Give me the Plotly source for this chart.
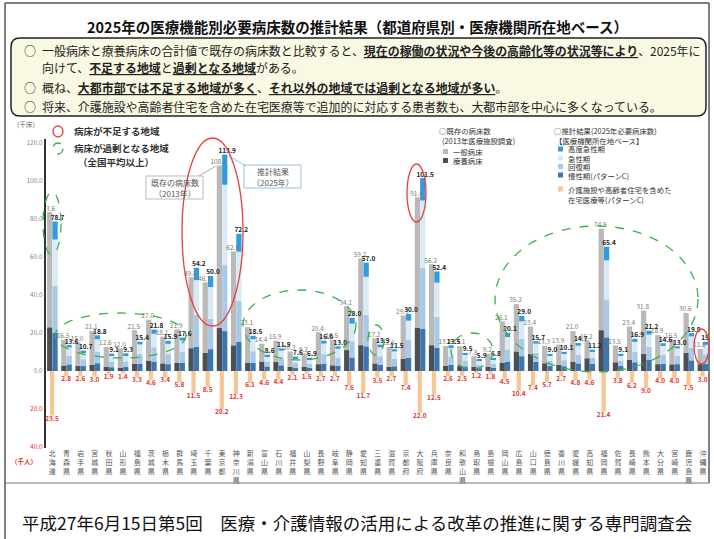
import plotly.graph_objects as go

# ---------------- data ----------------
prefectures = ["北海道","青森県","岩手県","宮城県","秋田県","山形県","福島県","茨城県","栃木県","群馬県",
               "埼玉県","千葉県","東京都","神奈川県","新潟県","富山県","石川県","福井県","山梨県","長野県",
               "岐阜県","静岡県","愛知県","三重県","滋賀県","京都府","大阪府","兵庫県","奈良県","和歌山県",
               "鳥取県","島根県","岡山県","広島県","山口県","徳島県","香川県","愛媛県","高知県","福岡県",
               "佐賀県","長崎県","熊本県","大分県","宮崎県","鹿児島県","沖縄県"]

# existing beds 2013 (thousand beds): total label and long-term care part
existing_total = [83.6,16.5,15.0,21.1,12.6,12.0,21.5,27.0,18.1,21.9,
                  49.4,46.7,108.1,62.9,23.1,14.4,15.9,10.3,9.2,20.4,
                  16.5,34.1,59.2,17.2,12.6,29.3,91.4,56.2,13.2,13.1,
                  7.8,9.2,26.1,35.2,23.4,13.3,13.9,21.0,16.2,74.9,
                  13.5,23.4,31.8,18.9,16.5,30.6,11.6]
existing_ltc = [23.0,2.9,2.6,3.3,2.3,1.8,3.8,5.5,4.0,4.2,
                12.0,9.5,22.6,13.5,4.4,5.0,4.8,2.2,2.1,3.6,
                3.0,11.0,13.6,4.0,2.2,6.5,22.8,13.6,2.8,2.8,
                2.2,2.3,4.4,10.3,9.0,4.1,3.3,4.9,6.7,21.5,
                4.6,5.8,9.0,3.6,3.5,9.5,3.6]

# 2025 estimate (thousand beds)
est_total = [78.7,13.6,10.7,18.8,9.1,9.3,15.4,21.8,15.9,17.6,
             54.2,50.0,113.9,72.2,18.5,8.6,11.9,7.6,6.9,16.0,
             13.0,28.0,57.0,13.9,11.5,30.0,101.5,52.4,13.5,9.5,
             5.9,6.8,20.1,29.0,15.7,9.0,10.1,14.7,11.2,65.4,
             9.1,16.9,21.2,14.6,13.0,19.9,15.3]
est_high_acute = [9.5,1.2,1.0,2.1,0.9,0.9,1.4,2.2,1.6,1.6,
                  6.4,5.8,15.9,9.4,1.8,0.8,1.2,0.8,0.7,1.6,
                  1.3,3.1,7.4,1.4,1.2,3.5,11.8,5.9,1.4,0.9,
                  0.6,0.7,2.2,2.9,1.3,0.8,1.0,1.4,0.9,7.2,
                  0.8,1.6,2.0,1.4,1.1,1.7,1.5]
est_acute = [24.5,4.3,3.5,6.6,3.1,3.3,5.1,7.1,5.4,6.0,
             18.3,16.8,42.3,26.0,6.3,2.8,4.0,2.6,2.3,5.5,
             4.6,9.3,20.0,4.7,4.0,10.2,35.4,18.0,4.5,3.1,
             1.9,2.2,6.6,9.2,4.8,2.8,3.4,4.7,3.2,20.5,
             2.8,5.3,6.4,4.6,3.9,6.0,5.0]
est_recovery = [24.5,4.6,3.6,6.0,3.1,3.0,5.2,7.5,5.3,5.6,
                16.8,15.9,34.7,21.5,6.0,2.6,3.7,2.4,2.3,5.0,
                4.3,8.5,16.6,4.5,3.8,9.3,32.2,16.2,4.4,3.1,
                1.9,2.2,6.4,9.1,4.8,2.8,3.2,4.6,3.4,20.0,
                2.9,5.4,6.8,4.8,4.4,6.6,4.9]
est_chronic = [20.2,3.5,2.6,4.1,2.0,2.1,3.7,5.0,3.6,4.4,
               12.7,11.5,21.0,15.3,4.4,2.4,3.0,1.8,1.6,3.9,
               2.8,7.1,13.0,3.3,2.5,7.0,22.1,12.3,3.2,2.4,
               1.5,1.7,4.9,7.8,4.8,2.6,2.5,4.0,3.7,17.7,
               2.6,4.6,6.0,3.8,3.6,5.6,3.9]

# home medical care etc. (thousand persons)
home_care = [23.5,2.8,2.6,3.0,1.9,1.4,3.3,4.6,3.4,5.8,
             11.5,8.5,20.2,12.3,6.1,4.6,4.4,2.1,1.5,2.7,
             2.7,7.6,11.7,3.5,2.7,7.4,22.0,12.5,2.6,2.5,
             1.2,1.8,4.5,10.4,7.4,5.7,2.7,4.8,4.6,21.4,
             3.8,6.2,9.0,4.0,4.0,7.5,3.0]

y_tickvals = [120, 100, 80, 60, 40, 20, 0, -20, -40]
y_ticktext = ["120.0", "100.0", "80.0", "60.0", "40.0", "20.0", "0.0",
              "<span style='color:#e8332a'>20.0</span>", "<span style='color:#e8332a'>40.0</span>"]

# ---------------- geometry helpers ----------------
W, H = 714, 539
L, R, T, B = 46, 4, 139, 91
PW, PH = W - L - R, H - T - B


def px(x):
    return (x - L) / PW


def py(y):
    return 1 - (y - T) / PH


FONT = "Noto Sans CJK JP, Noto Sans, sans-serif"

C_GEN = "#b9b9b9"
C_LTC = "#4b5058"
C_HA = "#2f9be0"
C_AC = "#d9eaf7"
C_RC = "#a8c9e8"
C_CH = "#3b76b3"
C_HC = "#f8c597"

n = len(prefectures)
idx = list(range(n))
x_ex = [i - 0.19 for i in idx]
x_es = [i + 0.19 for i in idx]
x_hc = [i - 0.02 for i in idx]
existing_general = [round(t - l, 1) for t, l in zip(existing_total, existing_ltc)]

fig = go.Figure()
bw = 0.37
for xs, ys, col, w in [
    (x_ex, existing_ltc, C_LTC, bw),
    (x_ex, existing_general, C_GEN, bw),
    (x_es, est_chronic, C_CH, bw),
    (x_es, est_recovery, C_RC, bw),
    (x_es, est_acute, C_AC, bw),
    (x_es, est_high_acute, C_HA, bw),
    (x_hc, [-v for v in home_care], C_HC, 0.3),
]:
    fig.add_bar(x=xs, y=ys, width=w, marker=dict(color=col, line=dict(width=0)),
                showlegend=False, hoverinfo="skip")

fig.add_scatter(x=[i - 0.25 for i in idx], y=existing_total, mode="text",
                text=[f"{v:.1f}" for v in existing_total], textposition="top center",
                textfont=dict(size=6.5, color="#7d7d68", family=FONT), showlegend=False, hoverinfo="skip")
fig.add_scatter(x=[i + 0.36 for i in idx], y=est_total, mode="text",
                text=[f"<b>{v:.1f}</b>" for v in est_total], textposition="top center",
                textfont=dict(size=6.5, color="#222", family=FONT), showlegend=False, hoverinfo="skip")
fig.add_scatter(x=x_hc, y=[-v for v in home_care], mode="text",
                text=[f"<b>{v:.1f}</b>" for v in home_care], textposition="bottom center",
                textfont=dict(size=6.5, color="#e8332a", family=FONT), showlegend=False, hoverinfo="skip")

shapes = []
ann = []


def text(x, y, s, size=8, color="#222", anchor="left", bold=False, yanchor="middle"):
    ann.append(dict(x=px(x), y=py(y), xref="paper", yref="paper", text=(f"<b>{s}</b>" if bold else s),
                    showarrow=False, xanchor=anchor, yanchor=yanchor,
                    font=dict(size=size, color=color, family=FONT)))


def rect(x0, y0, x1, y1, fill, line="rgba(0,0,0,0)", lw=0):
    shapes.append(dict(type="rect", xref="paper", yref="paper", x0=px(x0), x1=px(x1), y0=py(y0), y1=py(y1),
                       fillcolor=fill, line=dict(color=line, width=lw)))


def ellipse(x0, y0, x1, y1, color, dash="solid"):
    shapes.append(dict(type="circle", xref="paper", yref="paper", x0=px(x0), x1=px(x1), y0=py(y0), y1=py(y1),
                       line=dict(color=color, width=1.3, dash=dash)))


def line(x0, y0, x1, y1, color, lw=1.0):
    shapes.append(dict(type="line", xref="paper", yref="paper", x0=px(x0), x1=px(x1), y0=py(y0), y1=py(y1),
                       line=dict(color=color, width=lw)))


def rrect(x0, y0, x1, y1, r, fill, color, lw):
    p = (f"M {px(x0+r)},{py(y0)} L {px(x1-r)},{py(y0)} Q {px(x1)},{py(y0)} {px(x1)},{py(y0+r)} "
         f"L {px(x1)},{py(y1-r)} Q {px(x1)},{py(y1)} {px(x1-r)},{py(y1)} L {px(x0+r)},{py(y1)} "
         f"Q {px(x0)},{py(y1)} {px(x0)},{py(y1-r)} L {px(x0)},{py(y0+r)} Q {px(x0)},{py(y0)} {px(x0+r)},{py(y0)} Z")
    shapes.append(dict(type="path", xref="paper", yref="paper", path=p, fillcolor=fill,
                       line=dict(color=color, width=lw), layer="below"))


# page frame
line(5, 3, 709, 3, "#555", 1.5)
line(5, 3, 5, 539, "#555", 1.5)
line(709, 3, 709, 483, "#555", 1.5)
line(5, 483, 709, 483, "#777", 1.2)

# title
text(357, 26, "2025年の医療機能別必要病床数の推計結果（都道府県別・医療機関所在地ベース）", size=14.5,
     color="#111", anchor="center", bold=True)

# summary box
BF = 11.95
rrect(11, 38, 706, 116, 9, "#f9f9e3", "#222", 1.5)
for y in (50, 87, 106):
    text(22, y, "○", size=BF, color="#222")
text(40, 50, "一般病床と療養病床の合計値で既存の病床数と比較すると、"
             "<u><b>現在の稼働の状況や今後の高齢化等の状況等により</b></u>、2025年に",
     size=BF, color="#222")
text(40, 67, "向けて、<u><b>不足する地域</b></u>と<u><b>過剰となる地域</b></u>がある。", size=BF, color="#222")
text(40, 87, "概ね、<u><b>大都市部では不足する地域が多く</b></u>、<u><b>それ以外の地域では過剰となる地域が多い</b></u>。",
     size=BF, color="#222")
text(40, 106, "将来、介護施設や高齢者住宅を含めた在宅医療等で追加的に対応する患者数も、大都市部を中心に多くなっている。",
     size=BF, color="#222")

# axis unit labels
text(26, 124, "（千床）", size=6.5, color="#666", anchor="center")
text(24, 461, "（千人）", size=6.5, color="#e8332a", anchor="center", bold=True)

# left legend
ellipse(53, 126, 63, 137, "#e84040")
text(72, 131, "病床が不足する地域", size=9.5, color="#333", bold=True)
ellipse(53, 143, 63, 154, "#3cb050", "dash")
text(72, 148, "病床が過剰となる地域", size=9.5, color="#333", bold=True)
text(76, 162, "（全国平均以上）", size=9.5, color="#333", bold=True)

# right legend
fs = 7.4
text(437, 130, "○既存の病床数", size=fs, color="#333")
text(440, 140, "(2013年医療施設調査)", size=fs, color="#333")
rect(443, 149, 448, 154, C_GEN)
text(451, 151.5, "一般病床", size=fs, color="#333")
rect(443, 158, 448, 163, C_LTC)
text(451, 160.5, "療養病床", size=fs, color="#333")

text(552, 130, "○推計結果(2025年必要病床数)", size=fs, color="#333")
text(553, 140, "【医療機関所在地ベース】", size=fs, color="#333")
for yy, col, lab in [(149, C_HA, "高度急性期"), (158, C_AC, "急性期"), (166.5, C_RC, "回復期"),
                     (175, C_CH, "慢性期(パターンC)")]:
    rect(558, yy - 2.5, 563, yy + 2.5, col)
    text(566, yy, lab, size=fs, color="#333")
rect(558, 186.5, 563, 191.5, C_HC)
text(566, 189, "介護施設や高齢者住宅を含めた", size=fs, color="#333")
text(566, 199, "在宅医療等(パターンC)", size=fs, color="#333")

# callouts
rect(146, 176, 203, 199, "rgba(255,255,255,0.9)", "#aaa", 0.8)
text(174.5, 182, "既存の病床数", size=8, color="#555", anchor="center")
text(174.5, 193, "（2013年）", size=8, color="#555", anchor="center")
line(199, 176, 216, 166, "#999", 0.8)
rect(244, 165, 301, 188, "rgba(255,255,255,0.9)", "#6fb6e6", 0.8)
text(272.5, 171, "推計結果", size=8, color="#555", anchor="center")
text(272.5, 182, "（2025年）", size=8, color="#555", anchor="center")
line(229, 156, 246, 166, "#6fb6e6", 0.8)

# region ellipses
ellipse(182, 138, 243, 326, "#e84040")
ellipse(407, 164, 426, 222, "#e84040")
ellipse(694, 329, 709, 364, "#e84040")
ellipse(43, 192, 61, 255, "#3cb050", "dash")
ellipse(55, 313, 186, 358, "#3cb050", "dash")
ellipse(243, 290, 356, 360, "#3cb050", "dash")
ellipse(368, 325, 384, 355, "#3cb050", "dash")
ellipse(451, 333, 493, 369, "#3cb050", "dash")
ellipse(495, 226, 698, 372, "#3cb050", "dash")

# footer
text(20, 522, "平成27年6月15日第5回　医療・介護情報の活用による改革の推進に関する専門調査会",
     size=17.5, color="#111")

fig.update_layout(
    width=W, height=H, margin=dict(l=L, r=R, t=T, b=B),
    paper_bgcolor="white", plot_bgcolor="white",
    barmode="relative", showlegend=False,
    font=dict(family=FONT),
    shapes=shapes, annotations=ann,
    xaxis=dict(range=[-0.45, 46.5], tickmode="array", tickvals=idx,
               ticktext=["<br>".join(list(p)) for p in prefectures],
               tickfont=dict(size=7, color="#555", family=FONT),
               showgrid=False, zeroline=False, showline=False, ticks=""),
    yaxis=dict(range=[-40.53, 122.1], tickmode="array", tickvals=y_tickvals, ticktext=y_ticktext,
               tickfont=dict(size=6.5, color="#888", family=FONT),
               showgrid=False, zeroline=False, showline=True, linecolor="#333", linewidth=2, ticks=""),
)

fig.write_html("out.html")
